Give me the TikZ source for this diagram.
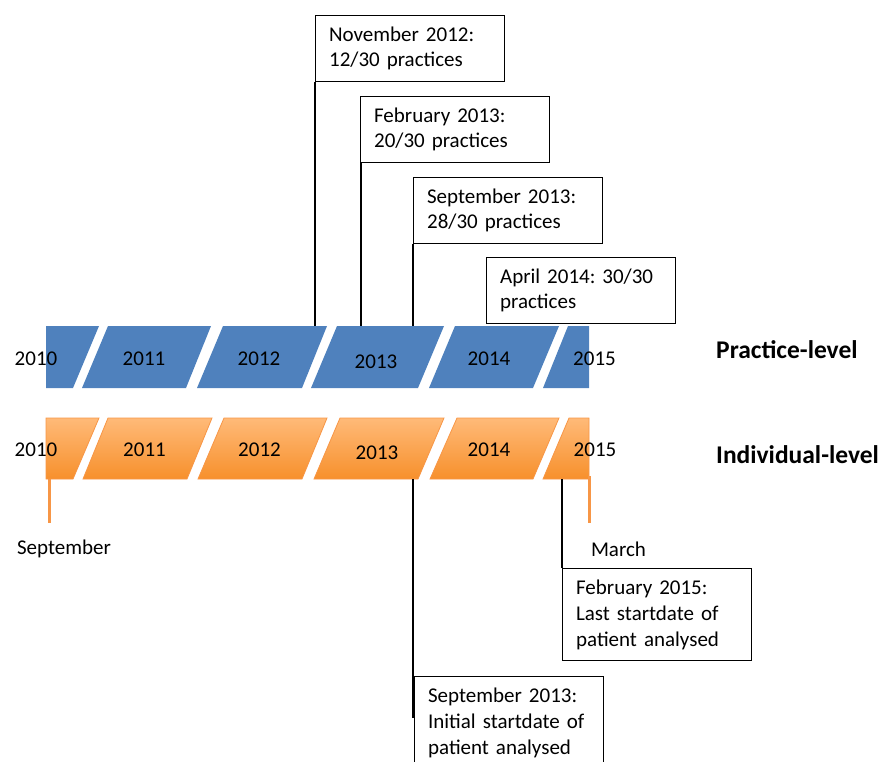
\documentclass[tikz,border=0pt]{standalone}
\usepackage{fontspec}
\setmainfont{Carlito}
\frenchspacing
\definecolor{barblue}{HTML}{4F81BD}
\definecolor{otop}{HTML}{FFBA78}
\definecolor{obot}{HTML}{F7902C}
\definecolor{oedge}{HTML}{F79646}
\begin{document}
\begin{tikzpicture}[x=1pt,y=-1pt,
  box/.style={draw=black,line width=1.2pt,inner xsep=13.5pt,inner ysep=0pt,
    text width=162pt,minimum height=66pt,align=left,anchor=north west,
    font=\fontsize{21}{25}\selectfont\frenchspacing},
  tallbox/.style={box,minimum height=92pt,font=\fontsize{21}{26}\selectfont\frenchspacing},
  yearlbl/.style={inner sep=0pt,font=\fontsize{21}{25}\selectfont},
  levellbl/.style={inner sep=0pt,font=\fontsize{25.5}{30}\selectfont\bfseries},
  bluebar/.style={fill=barblue},
  orangebar/.style={top color=otop,bottom color=obot,draw=oedge,line width=0.8pt},
  conn/.style={draw=black,line width=1.2pt},
  omark/.style={draw=oedge,line width=3pt}]
\clip (0,0) rectangle (896,761);
% blue practice-level bar
\path[bluebar] (46,326) -- (99,326) -- (73,388) -- (46,388) -- cycle;
\path[bluebar] (108,326) -- (211,326) -- (186,388) -- (82,388) -- cycle;
\path[bluebar] (223,326) -- (327,326) -- (302,388) -- (197,388) -- cycle;
\path[bluebar] (337,326) -- (444,326) -- (418,388) -- (311,388) -- cycle;
\path[bluebar] (455,326) -- (559,326) -- (533,388) -- (429,388) -- cycle;
\path[bluebar] (568,326) -- (589,326) -- (589,388) -- (543,388) -- cycle;
% orange individual-level bar
\path[orangebar] (46,418) -- (99,418) -- (73,479) -- (46,479) -- cycle;
\path[orangebar] (108,418) -- (212,418) -- (187,479) -- (83,479) -- cycle;
\path[orangebar] (224,418) -- (327,418) -- (302,479) -- (198,479) -- cycle;
\path[orangebar] (340,418) -- (444,418) -- (418,479) -- (314,479) -- cycle;
\path[orangebar] (457,418) -- (559,418) -- (533,479) -- (430,479) -- cycle;
\path[orangebar] (569,418) -- (589,418) -- (589,479) -- (543,479) -- cycle;
% year labels
\node[yearlbl] (b2010) at (36,359) {2010};
\node[yearlbl] (b2011) at (144,359) {2011};
\node[yearlbl] (b2012) at (259,359) {2012};
\node[yearlbl] (b2013) at (376,362) {2013};
\node[yearlbl] (b2014) at (489,359) {2014};
\node[yearlbl] (b2015) at (594.5,359) {2015};
\node[yearlbl] (o2010) at (36,450) {2010};
\node[yearlbl] (o2011) at (144.5,450) {2011};
\node[yearlbl] (o2012) at (259.5,450) {2012};
\node[yearlbl] (o2013) at (377,453) {2013};
\node[yearlbl] (o2014) at (489,450) {2014};
\node[yearlbl] (o2015) at (595,450) {2015};
% level labels
\node[levellbl,anchor=west] (plev) at (716,350) {Practice-level};
\node[levellbl,anchor=west] (ilev) at (716,455) {Individual-level};
% orange start/end markers
\coordinate (ms0) at (49,479);
\coordinate (ms1) at (49,523);
\coordinate (me0) at (589,476);
\coordinate (me1) at (589,523);
\draw[omark] (ms0) -- (ms1);
\draw[omark] (me0) -- (me1);
\node[yearlbl] (sept) at (64,549) {September};
\node[yearlbl] (march) at (618.5,549) {March};
% boxes
\node[box] (bx1) at (315,15) {November 2012:\\12/30 practices};
\node[box] (bx2) at (360,96) {February 2013:\\20/30 practices};
\node[box] (bx3) at (413,177) {September 2013:\\28/30 practices};
\node[box] (bx4) at (486,257) {April 2014: 30/30\\practices};
\node[tallbox] (bx5) at (562,568) {February 2015:\\Last startdate of\\patient analysed};
\node[tallbox] (bx6) at (414,676) {September 2013:\\Initial startdate of\\patient analysed};
% connectors
\coordinate (p1) at (315,326);
\coordinate (p2) at (361,326);
\coordinate (p3) at (413,326);
\coordinate (q1) at (413,479);
\coordinate (q1e) at (413,718);
\coordinate (q2) at (562,479);
\draw[conn] (bx1.south west) -- (p1);
\draw[conn] (bx2.south west -| p2) -- (p2);
\draw[conn] (bx3.south west) -- (p3);
\draw[conn] (q1) -- (q1e);
\draw[conn] (q2) -- (bx5.north west);
\end{tikzpicture}
\end{document}
